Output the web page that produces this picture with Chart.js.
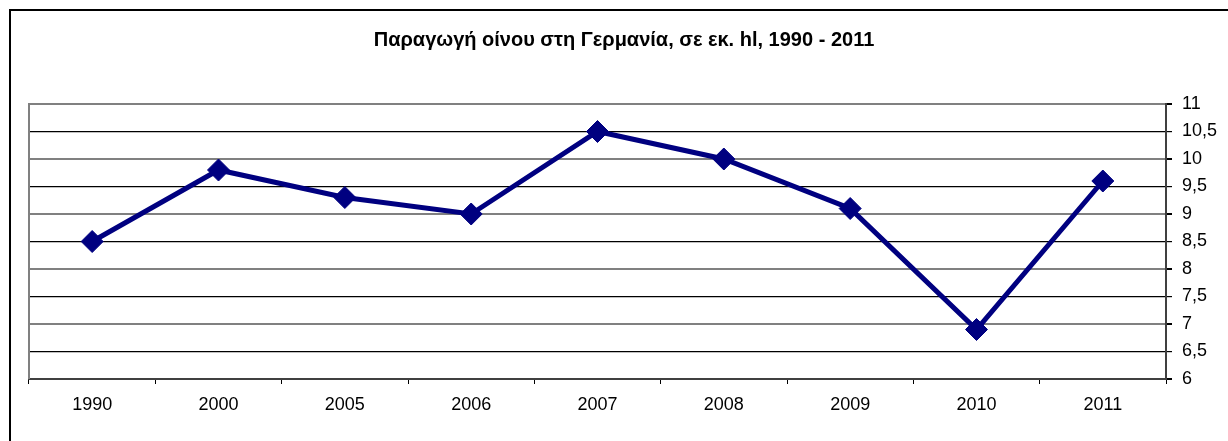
<!DOCTYPE html>
<html>
<head>
<meta charset="utf-8">
<script src="https://cdn.jsdelivr.net/npm/chart.js@4/dist/chart.umd.min.js"></script>
<style>
    html, body { margin: 0; padding: 0; background: #fff; overflow: hidden; }
    #frame { position: absolute; left: 9px; top: 9px; width: 1300px; height: 500px; border: 2px solid #000; }
    #wrap { position: absolute; left: 0; top: 0; width: 1228px; height: 441px; }
</style>
</head>
<body>
<div id="frame"></div>
<div id="wrap"><canvas id="wineChart" width="1228" height="441"></canvas></div>
<script>
const chartTitle = 'Παραγωγή οίνου στη Γερμανία, σε εκ. hl, 1990 - 2011';
const years = ['1990', '2000', '2005', '2006', '2007', '2008', '2009', '2010', '2011'];
const production = [8.5, 9.8, 9.3, 9.0, 10.5, 10.0, 9.1, 6.9, 9.6];
const yMin = 6;
const yMax = 11;
const yStep = 0.5;

const FONT = '"Liberation Sans", Arial, sans-serif';

// title and left border of the plot area, drawn by hand
const framePlugin = {
    id: 'framePlugin',
    afterDraw(chart) {
        const ctx = chart.ctx;
        const area = chart.chartArea;
        ctx.save();
        ctx.strokeStyle = '#808080';
        ctx.lineWidth = 2;
        ctx.beginPath();
        ctx.moveTo(area.left, area.top - 1);
        ctx.lineTo(area.left, area.bottom);
        ctx.stroke();

        ctx.fillStyle = '#000';
        ctx.font = 'bold 20px ' + FONT;
        ctx.textAlign = 'center';
        ctx.textBaseline = 'middle';
        ctx.fillText(chartTitle, 624, 40);
        ctx.restore();
    }
};

const ctx = document.getElementById('wineChart');
new Chart(ctx, {
    type: 'line',
    data: {
        labels: years,
        datasets: [{
            data: production,
            borderColor: '#000080',
            backgroundColor: '#000080',
            borderWidth: 5,
            tension: 0,
            pointStyle: 'rectRot',
            pointRadius: 11,
            pointBorderWidth: 1,
            pointBorderColor: '#000080',
            pointBackgroundColor: '#000080'
        }]
    },
    options: {
        responsive: false,
        animation: false,
        layout: { padding: { left: 29, top: 104, right: 0, bottom: 0 } },
        plugins: {
            legend: { display: false },
            title: { display: false },
            tooltip: { enabled: false }
        },
        scales: {
            x: {
                offset: true,
                grid: {
                    offset: true,
                    drawOnChartArea: false,
                    drawTicks: true,
                    tickLength: 5,
                    tickColor: '#000'
                },
                border: { color: '#404040', width: 2 },
                ticks: {
                    color: '#000',
                    font: { family: FONT, size: 18 },
                    padding: 10,
                    maxRotation: 0
                },
                afterFit(scale) { scale.height = 62; }
            },
            y: {
                position: 'right',
                min: yMin,
                max: yMax,
                grid: {
                    color: c => (c.tick && Number.isInteger(c.tick.value)) ? '#808080' : '#000',
                    lineWidth: c => (c.tick && Number.isInteger(c.tick.value)) ? 2 : 1.2,
                    drawTicks: true,
                    tickLength: 6,
                    tickColor: '#000'
                },
                border: { color: '#404040', width: 2 },
                ticks: {
                    stepSize: yStep,
                    color: '#000',
                    padding: 10,
                    font: { family: FONT, size: 18 },
                    callback: v => String(v).replace('.', ',')
                },
                afterFit(scale) { scale.width = 62; }
            }
        }
    },
    plugins: [framePlugin]
});
</script>
</body>
</html>
